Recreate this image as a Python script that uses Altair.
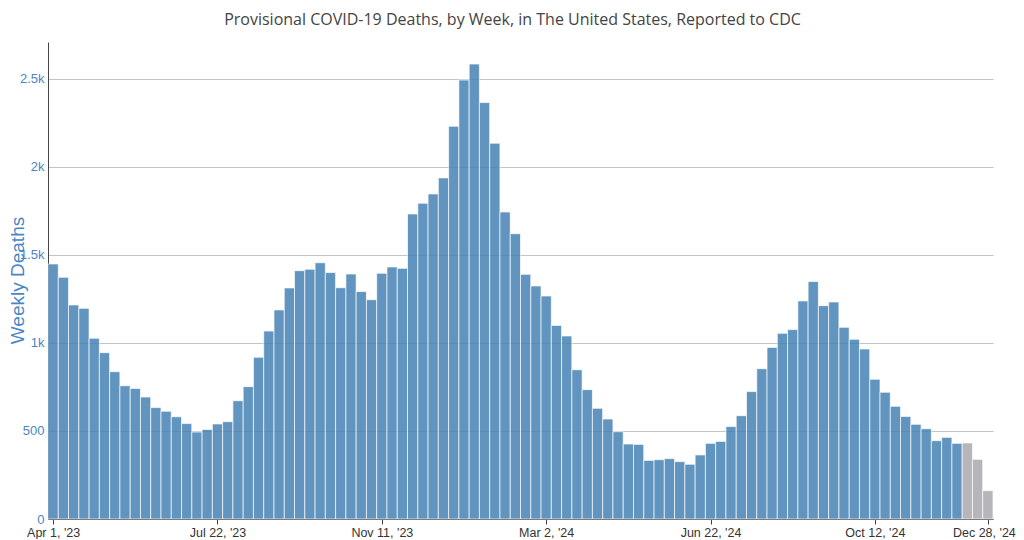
import altair as alt
import pandas as pd

# Week-ending dates (Saturdays), Apr 1 2023 .. Dec 28 2024
week_ending = [d.strftime("%Y-%m-%d") for d in pd.date_range("2023-04-01", "2024-12-28", freq="7D")]

weekly_deaths = [
    1449, 1373, 1216, 1197, 1027, 945, 837, 757, 742, 693,
    633, 612, 581, 542, 494, 509, 540, 553, 672, 752,
    919, 1068, 1188, 1313, 1411, 1419, 1456, 1400, 1314, 1392,
    1292, 1246, 1396, 1432, 1424, 1733, 1794, 1847, 1938, 2231,
    2494, 2585, 2366, 2135, 1744, 1621, 1390, 1324, 1267, 1100,
    1040, 848, 735, 629, 568, 496, 426, 424, 333, 337,
    343, 326, 311, 364, 430, 441, 525, 587, 724, 854,
    975, 1055, 1076, 1239, 1349, 1212, 1233, 1089, 1021, 966,
    794, 720, 640, 583, 538, 513, 445, 464, 430, 432,
    339, 161,
]

# last three weeks are still incomplete (grey)
status = ["Complete"] * (len(weekly_deaths) - 3) + ["Incomplete"] * 3

tick_dates = ["2023-04-01", "2023-07-22", "2023-11-11", "2024-03-02",
              "2024-06-22", "2024-10-12", "2024-12-28"]
y_ticks = [0, 500, 1000, 1500, 2000, 2500]

rows = []
for d, v, s in zip(week_ending, weekly_deaths, status):
    t = pd.Timestamp(d, tz="UTC")
    rows.append({
        "date": d,
        "start": (t - pd.Timedelta(hours=84)).strftime("%Y-%m-%dT%H:%M:%SZ"),
        "end": (t + pd.Timedelta(hours=84)).strftime("%Y-%m-%dT%H:%M:%SZ"),
        "deaths": v,
        "status": s,
    })
df = pd.DataFrame(rows)

first = pd.Timestamp(week_ending[0], tz="UTC") - pd.Timedelta(hours=84)
last = pd.Timestamp(week_ending[-1], tz="UTC") + pd.Timedelta(hours=84)
x_domain = [alt.DateTime(year=first.year, month=first.month, date=first.day, hours=first.hour, utc=True),
            alt.DateTime(year=last.year, month=last.month, date=last.day, hours=last.hour, utc=True)]
x_values = []
for d in tick_dates:
    t = pd.Timestamp(d)
    x_values.append(alt.DateTime(year=t.year, month=t.month, date=t.day, utc=True))

last_tick = pd.Timestamp(tick_dates[-1])
last_test = f"datum.value >= utc({last_tick.year}, {last_tick.month - 1}, {last_tick.day})"

chart = alt.Chart(df).mark_bar(
    opacity=0.85, stroke="white", strokeWidth=1, strokeOpacity=0.7
).encode(
    x=alt.X("start:T",
            scale=alt.Scale(type="utc", domain=x_domain, nice=False),
            axis=alt.Axis(
                values=x_values,
                labelExpr='utcFormat(datum.value, "%b %-d, \'%y")',
                title=None, grid=False, tickSize=5, tickColor="#444",
                domainColor="#444", labelColor="#333", labelFont="Liberation Sans",
                labelFontSize=12.5, labelPadding=2, labelOverlap=False, labelFlush=False,
                labelAngle=0,
                labelOffset={"condition": {"test": last_test, "value": -4}, "value": 0},
            )),
    x2="end:T",
    y=alt.Y("deaths:Q",
            scale=alt.Scale(domain=[0, 2710], nice=False),
            axis=alt.Axis(
                values=y_ticks,
                labelExpr="datum.value >= 1000 ? format(datum.value / 1000, '~g') + 'k' : datum.value",
                title="Weekly Deaths", titleColor="#4a86c4", titleFont="Liberation Sans",
                titleFontSize=19, titleFontWeight="normal", titleX=-21, titleY=280 - 42,
                titleAngle=-90, titleBaseline="bottom", titleAlign="center",
                grid=True, gridColor="#c4c4c4", gridWidth=1, ticks=False,
                domainColor="#444", labelColor="#4a86c4", labelFont="Liberation Sans",
                labelFontSize=13, labelPadding=4,
            )),
    y2=alt.datum(0),
    color=alt.Color("status:N",
                    scale=alt.Scale(domain=["Complete", "Incomplete"],
                                    range=["#4682b4", "#aaaaae"]),
                    legend=None),
).properties(
    width=945,
    height=477,
    title=alt.TitleParams(
        "Provisional COVID-19 Deaths, by Week, in The United States, Reported to CDC",
        font="Open Sans", fontSize=16, fontWeight="normal", color="#444",
        anchor="middle", dx=-8, offset=14,
    ),
    autosize=alt.AutoSizeParams(type="none"),
    padding={"left": 40, "top": 34, "right": 23, "bottom": 20},
).configure_view(stroke=None)

chart.save("out.html", embed_options={"renderer": "svg", "actions": False})
